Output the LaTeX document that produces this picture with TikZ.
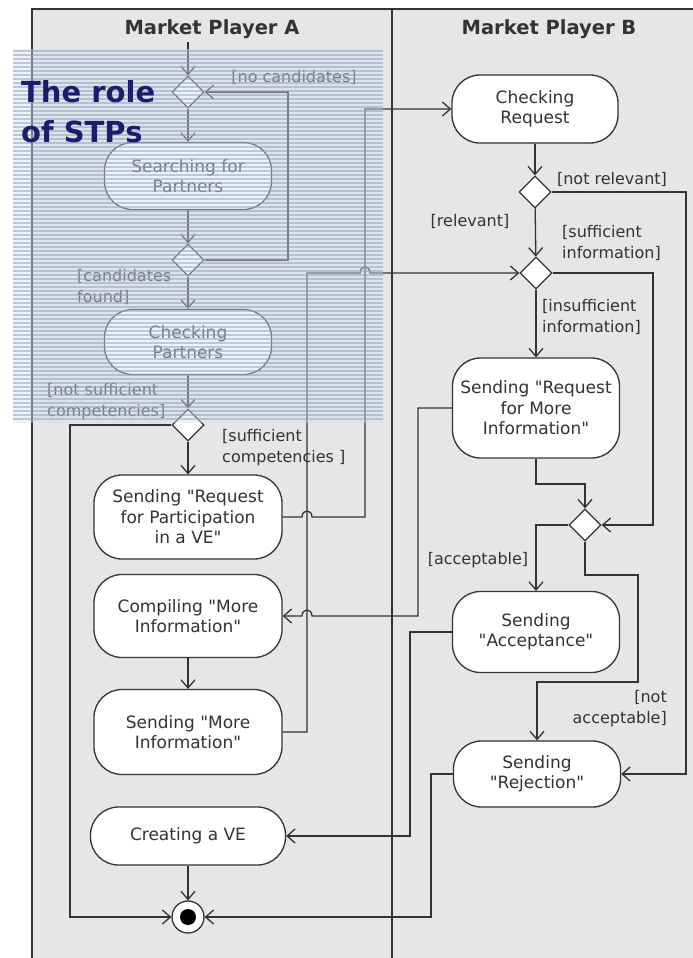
\documentclass[tikz,border=0pt]{standalone}
\usepackage{fontspec}
\setmainfont{DejaVu Sans}[Ligatures=TeXOff]
\usetikzlibrary{arrows.meta,shapes.geometric}
\definecolor{lanegray}{HTML}{E6E6E6}
\definecolor{stpblue}{HTML}{8E9CC0}
\definecolor{stplight}{HTML}{D8DEEE}
\definecolor{stpnavy}{HTML}{1C1C6E}
\definecolor{inkgray}{HTML}{333333}

\begin{document}
\begin{tikzpicture}[x=1pt,y=-1pt,
	action/.style={draw=inkgray, line width=1.3pt, fill=white, rounded corners=28pt,
		align=center, inner sep=2pt, text=inkgray, font=\fontsize{17}{20.5}\selectfont},
	decision/.style={diamond, draw=inkgray, line width=1.3pt, fill=white,
		minimum width=32pt, minimum height=32pt, inner sep=0pt},
	guard/.style={text=inkgray, font=\fontsize{16}{21}\selectfont, inner sep=0pt},
	flow/.style={draw=inkgray, line width=1.3pt, -{Straight Barb[length=8pt,width=14pt]}},
	lane/.style={draw=inkgray, line width=1.3pt},
	title/.style={text=inkgray, font=\bfseries\fontsize{19.5}{22}\selectfont},
]
	\useasboundingbox (0,0) rectangle (693,958);
	\fill[white] (0,0) rectangle (693,958);
	\fill[lanegray] (32,9) rectangle (693,958);

	% swimlanes
	\draw[lane] (32,958) -- (32,9) -- (693,9);
	\draw[lane] (392,9) -- (392,958);
	\node[title] (titleA) at (212,29) {Market Player A};
	\node[title] (titleB) at (549,29) {Market Player B};

	% market player A
	\coordinate (start) at (188,42);
	\node[decision] (candA) at (188,92) {};
	\node[action, minimum width=167pt, minimum height=67pt] (search) at (188,176) {Searching for\\Partners};
	\node[decision] (candB) at (188,260) {};
	\node[action, minimum width=167pt, minimum height=65pt] (checkP) at (188,342) {Checking\\Partners};
	\node[decision] (compet) at (188,425) {};
	\node[action, minimum width=188pt, minimum height=84pt] (reqPart) at (188,517) {Sending "Request\\for Participation\\in a VE"};
	\node[action, minimum width=188pt, minimum height=83pt] (compile) at (188,616) {Compiling "More\\Information"};
	\node[action, minimum width=188pt, minimum height=85pt] (sendMore) at (188,732) {Sending "More\\Information"};
	\node[action, minimum width=195pt, minimum height=58pt] (create) at (188,836) {Creating a VE};
	\node[circle, draw=inkgray, line width=1.3pt, fill=white, minimum size=32pt, inner sep=0pt,
		path picture={\fill[black] (path picture bounding box.center) circle (8pt);}] (final) at (188,917) {};

	% market player B
	\node[action, minimum width=166pt, minimum height=68pt] (checkR) at (535,109) {Checking\\Request};
	\node[decision] (relev) at (535,192) {};
	\node[decision] (info) at (536,273) {};
	\node[action, minimum width=167pt, minimum height=100pt] (reqInfo) at (536,408) {Sending "Request\\for More\\Information"};
	\node[decision] (accept) at (585,525) {};
	\node[action, minimum width=167pt, minimum height=81pt] (sendAcc) at (536,632) {Sending\\"Acceptance"};
	\node[action, minimum width=167pt, minimum height=66pt] (sendRej) at (537,774) {Sending\\"Rejection"};

	% flows
	\draw[flow] (start) -- (candA);
	\draw[flow] (candA) -- (search);
	\draw[flow] (search) -- (candB);
	\draw[flow] (candB.east) -- (288,260) |- (candA.east);
	\draw[flow] (candB) -- (checkP);
	\draw[flow] (checkP) -- (compet);
	\draw[flow] (compet.west) -- (70,425) |- (final.west);
	\draw[flow] (compet) -- (reqPart);
	\draw[flow] (reqPart.east) -- (302,517) .. controls (302,509) and (312,509) .. (312,517)
		-- (365,517) |- (checkR.west);
	\draw[flow] (compile) -- (sendMore);
	\draw[flow] (sendMore.east) -| (307,273) -- (360,273) .. controls (360,265) and (370,265) .. (370,273)
		-- (info.west);
	\draw[flow] (create) -- (final);
	\draw[flow] (checkR) -- (relev);
	\draw[flow] (relev.east) -- (686,192) |- (sendRej.east);
	\draw[flow] (relev) -- (info);
	\draw[flow] (info.east) -- (653,273) |- (accept.east);
	\draw[flow] (info) -- (reqInfo);
	\draw[flow] (reqInfo.west) -- (418,408) -- (418,616) -- (312,616)
		.. controls (312,608) and (302,608) .. (302,616) -- (compile.east);
	\draw[flow] (reqInfo.south) -- (536,484) -| (accept.north);
	\draw[flow] (accept.west) -| (sendAcc.north);
	\draw[flow] (accept.south) -- (585,575) -- (638,575) -- (638,682) -| (sendRej.north);
	\draw[flow] (sendAcc.west) -- (410,632) |- (create.east);
	\draw[flow] (sendRej.west) -- (431,774) |- (final.east);

	% guards
	\node[guard] (gNoCand) at (294,77) {[no candidates]};
	\node[guard, anchor=west, align=left] (gCand) at (77,287) {[candidates\\found]};
	\node[guard, anchor=west, align=left] (gNotSuff) at (47,402) {[not sufficient\\competencies]};
	\node[guard, anchor=west, align=left] (gSuff) at (222,448) {[sufficient\\competencies ]};
	\node[guard] (gNotRel) at (612,179) {[not relevant]};
	\node[guard] (gRel) at (470,221) {[relevant]};
	\node[guard, anchor=west, align=left] (gSuffInfo) at (562,243) {[sufficient\\information]};
	\node[guard, anchor=west, align=left] (gInsuff) at (542,317) {[insufficient\\information]};
	\node[guard] (gAcc) at (478,560) {[acceptable]};
	\node[guard, anchor=east, align=right] (gNotAcc) at (667,709) {[not\\acceptable]};

	% the role of STPs
	\fill[stplight, opacity=0.4] (13,49) rectangle (383,423);
	\foreach \y in {51,55,...,421}
		\draw[stpblue, opacity=0.5, line width=1.8pt] (13,\y) -- (383,\y);
	\node[anchor=base west, inner sep=0pt, text=stpnavy, font=\bfseries\fontsize{29}{34}\selectfont] (stpA) at (21,102) {The role};
	\node[anchor=base west, inner sep=0pt, text=stpnavy, font=\bfseries\fontsize{29}{34}\selectfont] (stpB) at (21,142) {of STPs};
\end{tikzpicture}
\end{document}
